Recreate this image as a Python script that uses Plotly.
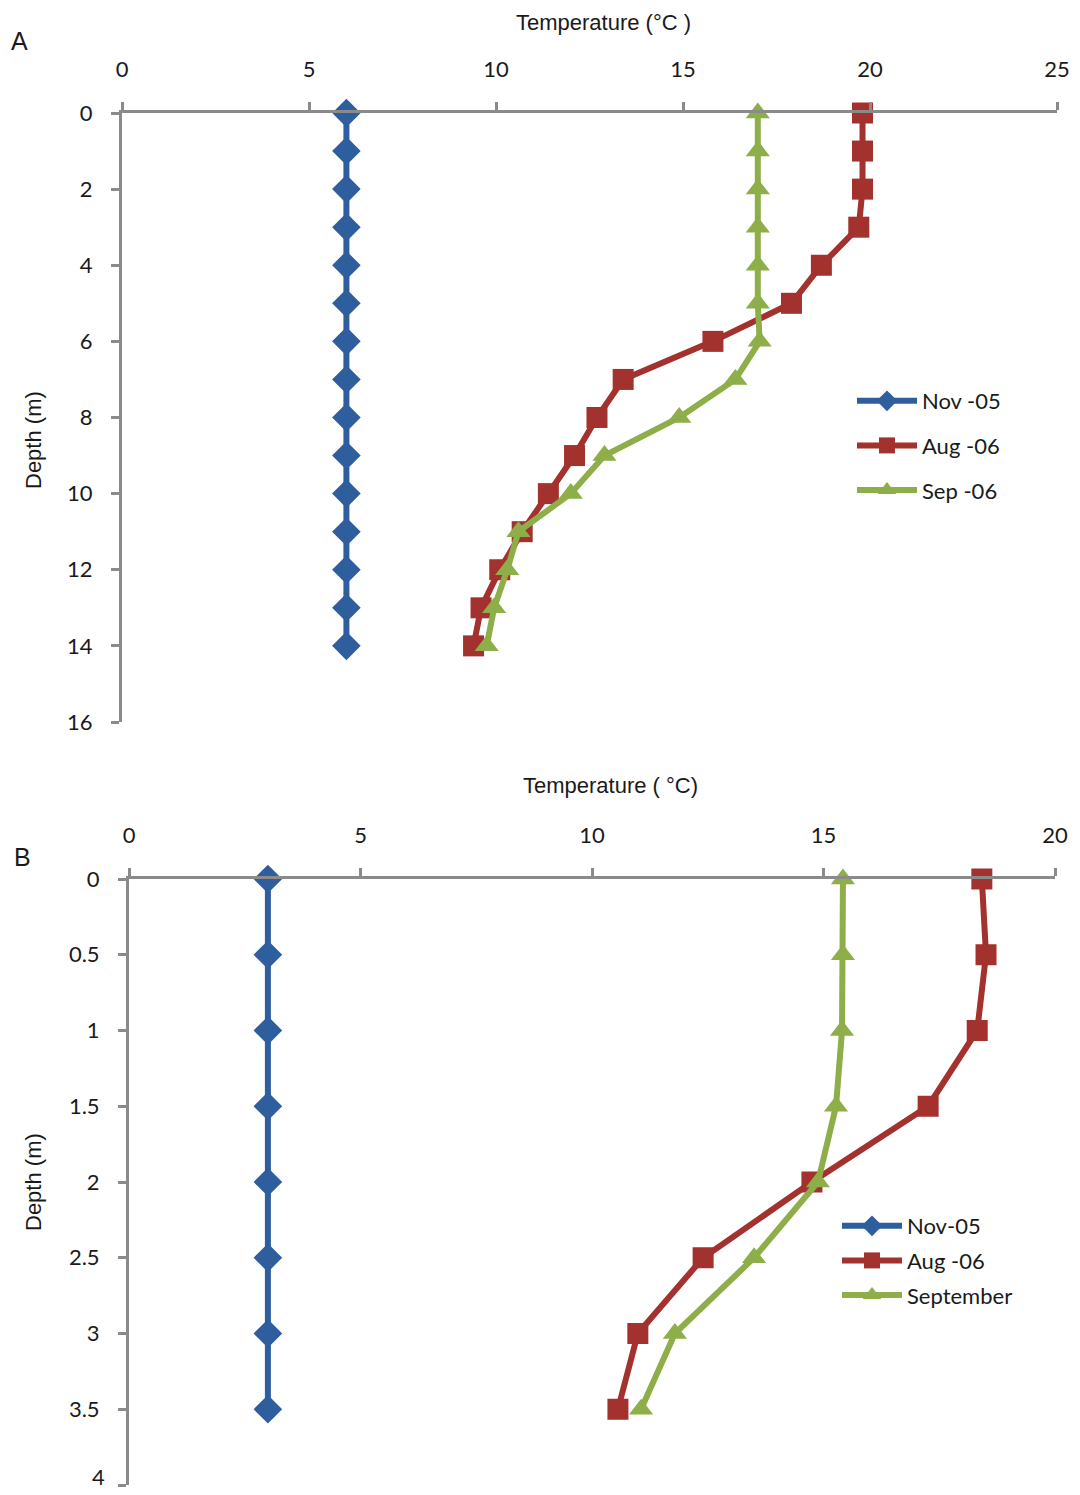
import plotly.graph_objects as go

# Panel A data
depth_a = [0, 1, 2, 3, 4, 5, 6, 7, 8, 9, 10, 11, 12, 13, 14]
nov05_a = [6.0] * 15
aug06_a = [19.8, 19.8, 19.8, 19.7, 18.7, 17.9, 15.8, 13.4, 12.7, 12.1, 11.4, 10.7, 10.1, 9.6, 9.4]
sep06_a = [17.0, 17.0, 17.0, 17.0, 17.0, 17.0, 17.05, 16.4, 14.9, 12.9, 12.0, 10.6, 10.3, 9.95, 9.75]

# Panel B data
depth_b = [0, 0.5, 1, 1.5, 2, 2.5, 3, 3.5]
nov05_b = [3.0] * 8
aug06_b = [18.42, 18.51, 18.32, 17.26, 14.75, 12.4, 10.99, 10.56]
sep_b = [15.42, 15.42, 15.4, 15.27, 14.88, 13.5, 11.79, 11.06]

# Tick values
ticks_ya = [0, 2, 4, 6, 8, 10, 12, 14, 16]
ticks_yb = [0, 0.5, 1, 1.5, 2, 2.5, 3, 3.5, 4]

BLUE = "#2F5E9E"
RED = "#A3312E"
GREEN = "#8DAE48"
AXIS = "#8A8A8A"
TXT = "#1a1a1a"
TICKFONT = dict(family="Lato, Open Sans, sans-serif", size=22, color=TXT)

fig = go.Figure()

def add(x, y, name, color, symbol, size, xa, ya, legend):
    fig.add_trace(go.Scatter(
        x=x, y=y, name=name, mode="lines+markers",
        line=dict(color=color, width=6),
        marker=dict(color=color, symbol=symbol, size=size),
        xaxis=xa, yaxis=ya, legend=legend, cliponaxis=False,
        legendgroup=name + legend,
    ))

add(nov05_a, depth_a, "Nov -05", BLUE, "diamond", 22, "x", "y", "legend")
add(aug06_a, depth_a, "Aug -06", RED, "square", 21, "x", "y", "legend")
add(sep06_a, depth_a, "Sep -06", GREEN, "triangle-up", 21, "x", "y", "legend")

add(nov05_b, depth_b, "Nov-05", BLUE, "diamond", 22, "x2", "y2", "legend2")
add(aug06_b, depth_b, "Aug -06", RED, "square", 21, "x2", "y2", "legend2")
add(sep_b, depth_b, "September", GREEN, "triangle-up", 21, "x2", "y2", "legend2")

W, H = 1080, 1495

def xax(rng, dom, anchor):
    return dict(domain=dom, range=rng, dtick=5, tick0=0, side="top", anchor=anchor,
                showline=True, linecolor=AXIS, linewidth=3, ticks="outside",
                ticklen=8, tickwidth=3, tickcolor=AXIS, showgrid=False, zeroline=False,
                tickfont=TICKFONT, ticklabelstandoff=16, automargin=False)

def yax(rng, dom, tv, anchor):
    return dict(domain=dom, range=rng, tickmode="array", tickvals=tv,
                ticktext=[f"{v:g}" for v in tv], anchor=anchor,
                showline=True, linecolor=AXIS, linewidth=3, ticks="outside",
                ticklen=8, tickwidth=3, tickcolor=AXIS, showgrid=False, zeroline=False,
                tickfont=TICKFONT, ticklabelstandoff=14, automargin=False)

fig.update_layout(
    width=W, height=H,
    margin=dict(l=0, r=0, t=0, b=0),
    paper_bgcolor="white", plot_bgcolor="rgba(0,0,0,0)",
    xaxis=xax([0, 25], [122 / W, 1057 / W], "y"),
    yaxis=yax([16, 0], [1 - 722 / H, 1 - 113 / H], ticks_ya, "x"),
    xaxis2=xax([0, 20], [129 / W, 1055 / W], "y2"),
    yaxis2=yax([4, 0], [1 - 1485 / H, 1 - 879 / H], ticks_yb, "x2"),
    legend=dict(x=852 / W, y=1 - 380 / H, xanchor="left", yanchor="top",
                font=dict(family="Lato, Open Sans, sans-serif", size=22, color=TXT),
                itemwidth=60, tracegroupgap=13, bgcolor="rgba(0,0,0,0)"),
    legend2=dict(x=837 / W, y=1 - 1205 / H, xanchor="left", yanchor="top",
                 font=dict(family="Lato, Open Sans, sans-serif", size=22, color=TXT),
                 itemwidth=60, tracegroupgap=3, bgcolor="rgba(0,0,0,0)"),
    showlegend=True,
)

# bottom tick label of panel B (plotly drops it at the paper edge)
fig.add_annotation(text=f"{ticks_yb[-1]:g}", x=(129 - 22) / W, y=ticks_yb[-1],
                   xref="paper", yref="y2", xanchor="right", yanchor="bottom",
                   yshift=-7, showarrow=False, font=TICKFONT)

ann_font = dict(family="Liberation Sans, Arial, sans-serif", size=22, color=TXT)
anns = [
    dict(text="Temperature (°C )", x=603 / W, y=1 - 22 / H),
    dict(text="Temperature ( °C)", x=610 / W, y=1 - 785 / H),
]
for a in anns:
    fig.add_annotation(text=a["text"], x=a["x"], y=a["y"], xref="paper", yref="paper",
                       xanchor="center", yanchor="middle", showarrow=False, font=ann_font)
for txt, yy in [("Depth (m)", 440), ("Depth (m)", 1182)]:
    fig.add_annotation(text=txt, x=33 / W, y=1 - yy / H, xref="paper", yref="paper",
                       xanchor="center", yanchor="middle", showarrow=False, textangle=-90,
                       font=ann_font)
for txt, xx, yy in [("A", 19, 41), ("B", 22, 857)]:
    fig.add_annotation(text=txt, x=xx / W, y=1 - yy / H, xref="paper", yref="paper",
                       xanchor="center", yanchor="middle", showarrow=False,
                       font=dict(family="Liberation Sans, Arial, sans-serif", size=25, color=TXT))

fig.write_html("out.html")
